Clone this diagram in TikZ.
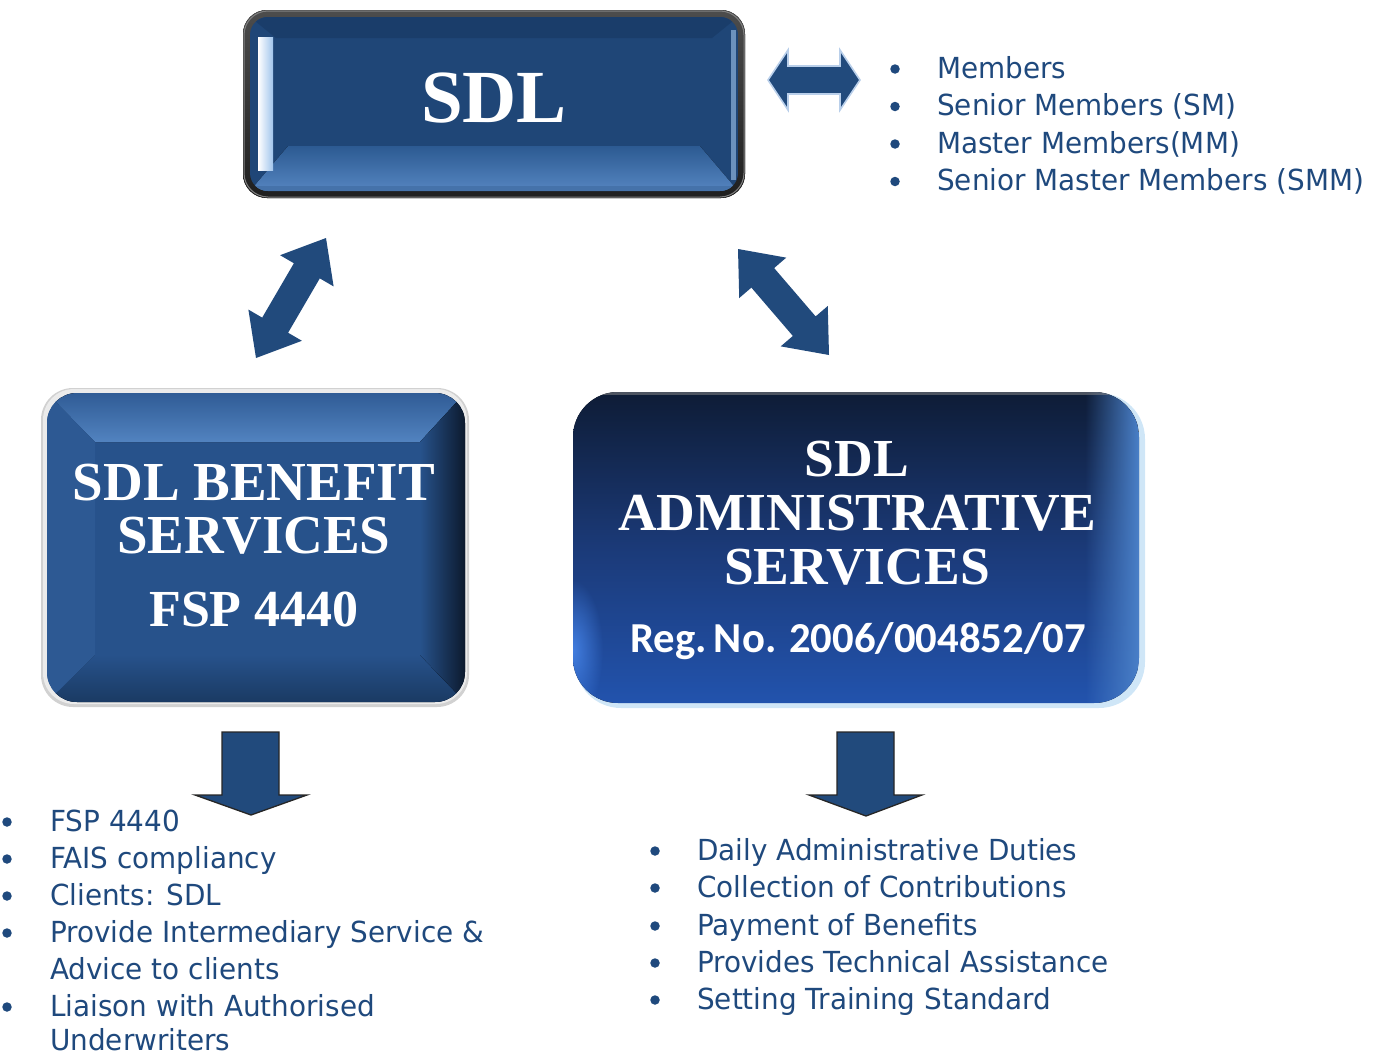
\documentclass[tikz,border=0pt]{standalone}
\usepackage{fontspec}
\usetikzlibrary{calc,fadings}
\newfontfamily\tah[FakeStretch=0.96]{DejaVu Sans}
\newfontfamily\tnr{Liberation Serif}
\newfontfamily\calib{Carlito}
\definecolor{txtblue}{HTML}{1F497D}
\definecolor{arrblue}{HTML}{214A7C}
\definecolor{glow}{HTML}{B9CFEA}
\definecolor{sdlface}{HTML}{1F4677}
\definecolor{sdlbevlo}{HTML}{2C5A92}
\definecolor{sdlbevhi}{HTML}{5585C0}
\definecolor{sdltop}{HTML}{1A3D6A}
\definecolor{sdlhl}{HTML}{A0C4EC}
\definecolor{lface}{HTML}{27528B}
\definecolor{ltophi}{HTML}{5283C0}
\definecolor{ldark}{HTML}{0C1A2E}
\definecolor{lbot}{HTML}{1A3A63}
\definecolor{rtop}{HTML}{0E1C36}
\definecolor{rmid}{HTML}{1B3A78}
\definecolor{rbot}{HTML}{2253AD}
\definecolor{redge}{HTML}{4A80C8}
\definecolor{rglow}{HTML}{4A8AF0}
\definecolor{rim}{HTML}{CFE6F7}
\tikzfading[name=fadeR, left color=transparent!100, right color=transparent!0]
\tikzfading[name=fadeL, left color=transparent!0, right color=transparent!100]
\tikzfading[name=radfade, inner color=transparent!20, outer color=transparent!100]
% double block arrow: #1 tip, #2 tip, #3 head length, #4 head half width, #5 shaft half width, #6 style
\newcommand\dblarr[6]{%
  \path[#6] (#1)
  -- ($(#1)!#3!(#2)!#4!90:(#2)$)
  -- ($(#1)!#3!(#2)!#5!90:(#2)$)
  -- ($(#2)!#3!(#1)!#5!-90:(#1)$)
  -- ($(#2)!#3!(#1)!#4!-90:(#1)$)
  -- (#2)
  -- ($(#2)!#3!(#1)!#4!90:(#1)$)
  -- ($(#2)!#3!(#1)!#5!90:(#1)$)
  -- ($(#1)!#3!(#2)!#5!-90:(#2)$)
  -- ($(#1)!#3!(#2)!#4!-90:(#2)$)
  -- cycle;}
\begin{document}
\begin{tikzpicture}[x=1pt,y=-1pt,
  bultext/.style={font=\tah\fontsize{29}{35}\selectfont, text=txtblue, anchor=base west, inner sep=0pt},
  bulmark/.style={circle, fill=txtblue, minimum size=9.5pt, inner sep=0pt},
  boxtitle/.style={font=\tnr\bfseries, text=white, anchor=base, inner sep=0pt},
  blockarrow/.style={fill=arrblue, draw=glow, line width=1.6pt, line join=miter},
  downarrow/.style={fill=arrblue, draw=black!85, line width=1.3pt, line join=miter}]
\useasboundingbox (0,0) rectangle (1377,1055);

% ---------------- SDL box ----------------
\fill[rounded corners=24pt, top color=black!70, bottom color=black!88] (243,10) rectangle (745,198);
\draw[rounded corners=24pt, black!50, line width=1pt] (244,11) rectangle (744,197);
\begin{scope}
  \path[clip, rounded corners=18pt] (250,17) rectangle (738,191);
  \fill[sdlface] (250,17) rectangle (738,191);
  \fill[sdltop] (250,17) -- (738,17) -- (712,38) -- (276,38) -- cycle;
  \fill[top color=sdlbevlo, bottom color=sdlbevhi] (250,191) -- (738,191) -- (700,146) -- (288,146) -- cycle;
  \fill[sdlbevhi!70!sdlface] (250,186) rectangle (738,191);
  \fill[left color=white, right color=sdlhl] (258,37) rectangle (273,170);
  \fill[sdlhl!60!sdlface] (731,30) rectangle (736,180);
\end{scope}
\node[boxtitle, font=\tnr\bfseries\fontsize{75}{80}\selectfont] (sdl) at (494,122) {SDL};

% ---------------- Left box ----------------
\fill[rounded corners=32pt, black!18] (41,388) rectangle (469,707);
\fill[rounded corners=31pt, white!92!black] (43,389) rectangle (467,704);
\begin{scope}
  \path[clip, rounded corners=30pt] (47,393) rectangle (465,702);
  \fill[lface] (47,393) rectangle (465,702);
  \fill[top color=lface!80!ltophi, bottom color=ltophi] (47,393) -- (465,393) -- (420,442) -- (95,442) -- cycle;
  \fill[top color=lface, bottom color=lbot] (47,702) -- (465,702) -- (420,655) -- (95,655) -- cycle;
  \fill[left color=lface, right color=ldark] (465,393) -- (465,702) -- (420,655) -- (420,442) -- cycle;
  \fill[lface!85!ltophi] (47,393) -- (47,702) -- (95,655) -- (95,442) -- cycle;
\end{scope}
\node[boxtitle, font=\tnr\bfseries\fontsize{55}{60}\selectfont] (lb1) at (254,500) {SDL BENEFIT};
\node[boxtitle, font=\tnr\bfseries\fontsize{55}{60}\selectfont] (lb2) at (254,553) {SERVICES};
\node[boxtitle, font=\tnr\bfseries\fontsize{52}{60}\selectfont] (lb3) at (254,626) {FSP 4440};

% ---------------- Right box ----------------
\fill[rounded corners=46pt, rim] (575,393) rectangle (1145,708);
\begin{scope}
  \path[clip, rounded corners=45pt] (573,392) rectangle (1139,703);
  \fill[top color=rtop, bottom color=rbot, middle color=rmid] (573,392) rectangle (1139,703);
  \fill[redge, path fading=fadeR] (1085,392) rectangle (1139,703);
  \fill[rglow, path fading=radfade] (573,650) ellipse [x radius=30, y radius=70];
  \fill[black!45, opacity=0.5] (573,392) rectangle (1139,395);
\end{scope}
\node[boxtitle, font=\tnr\bfseries\fontsize{53.5}{58}\selectfont] (rb1) at (857,476) {SDL};
\node[boxtitle, font=\tnr\bfseries\fontsize{53.5}{58}\selectfont] (rb2) at (857,530) {ADMINISTRATIVE};
\node[boxtitle, font=\tnr\bfseries\fontsize{53.5}{58}\selectfont] (rb3) at (857,584) {SERVICES};
\node[boxtitle, font=\calib\bfseries\fontsize{42.7}{48}\selectfont] (rb4) at (858,652) {Reg.\,No. 2006/004852/07};

% ---------------- block arrows ----------------
\coordinate (hA) at (768,80);
\coordinate (hB) at (860,80);
\dblarr{hA}{hB}{20pt}{30pt}{14pt}{blockarrow}
\coordinate (lA) at (256,358);
\coordinate (lB) at (326,238);
\dblarr{lA}{lB}{38pt}{31pt}{15pt}{fill=arrblue}
\coordinate (rA) at (738,249);
\coordinate (rB) at (829,355);
\dblarr{rA}{rB}{38pt}{31pt}{15pt}{fill=arrblue}

\draw[downarrow] (222,732) -- (279,732) -- (279,795) -- (307,795) -- (251,815) -- (195,795) -- (222,795) -- cycle;
\draw[downarrow] (837,732) -- (894,732) -- (894,795) -- (922,795) -- (866,816) -- (809,795) -- (837,795) -- cycle;

% ---------------- bullet lists ----------------
\node[bulmark] (m1) at (895,69) {};   \node[bultext] (t1) at (937,78) {Members};
\node[bulmark] (m2) at (895,106.5) {}; \node[bultext] (t2) at (937,115.5) {Senior Members (SM)};
\node[bulmark] (m3) at (895,144) {};  \node[bultext] (t3) at (937,153) {Master Members(MM)};
\node[bulmark] (m4) at (895,181.5) {}; \node[bultext] (t4) at (937,190.5) {Senior Master Members (SMM)};

\node[bulmark] (l1) at (7,822) {};  \node[bultext] (lt1) at (50,831) {FSP 4440};
\node[bulmark] (l2) at (7,859) {};  \node[bultext] (lt2) at (50,868) {FAIS compliancy};
\node[bulmark] (l3) at (7,896) {};  \node[bultext] (lt3) at (50,905) {Clients: SDL};
\node[bulmark] (l4) at (7,933) {};  \node[bultext] (lt4) at (50,942) {Provide Intermediary Service \&};
                                    \node[bultext] (lt5) at (50,979) {Advice to clients};
\node[bulmark] (l6) at (7,1007) {}; \node[bultext] (lt6) at (50,1016) {Liaison with Authorised};
                                    \node[bultext] (lt7) at (50,1050) {Underwriters};

\node[bulmark] (r1) at (655,851) {}; \node[bultext] (rt1) at (697,860) {Daily Administrative Duties};
\node[bulmark] (r2) at (655,888) {}; \node[bultext] (rt2) at (697,897) {Collection of Contributions};
\node[bulmark] (r3) at (655,926) {}; \node[bultext] (rt3) at (697,935) {Payment of Benefits};
\node[bulmark] (r4) at (655,963) {}; \node[bultext] (rt4) at (697,972) {Provides Technical Assistance};
\node[bulmark] (r5) at (655,1000) {}; \node[bultext] (rt5) at (697,1009) {Setting Training Standard};
\end{tikzpicture}
\end{document}
